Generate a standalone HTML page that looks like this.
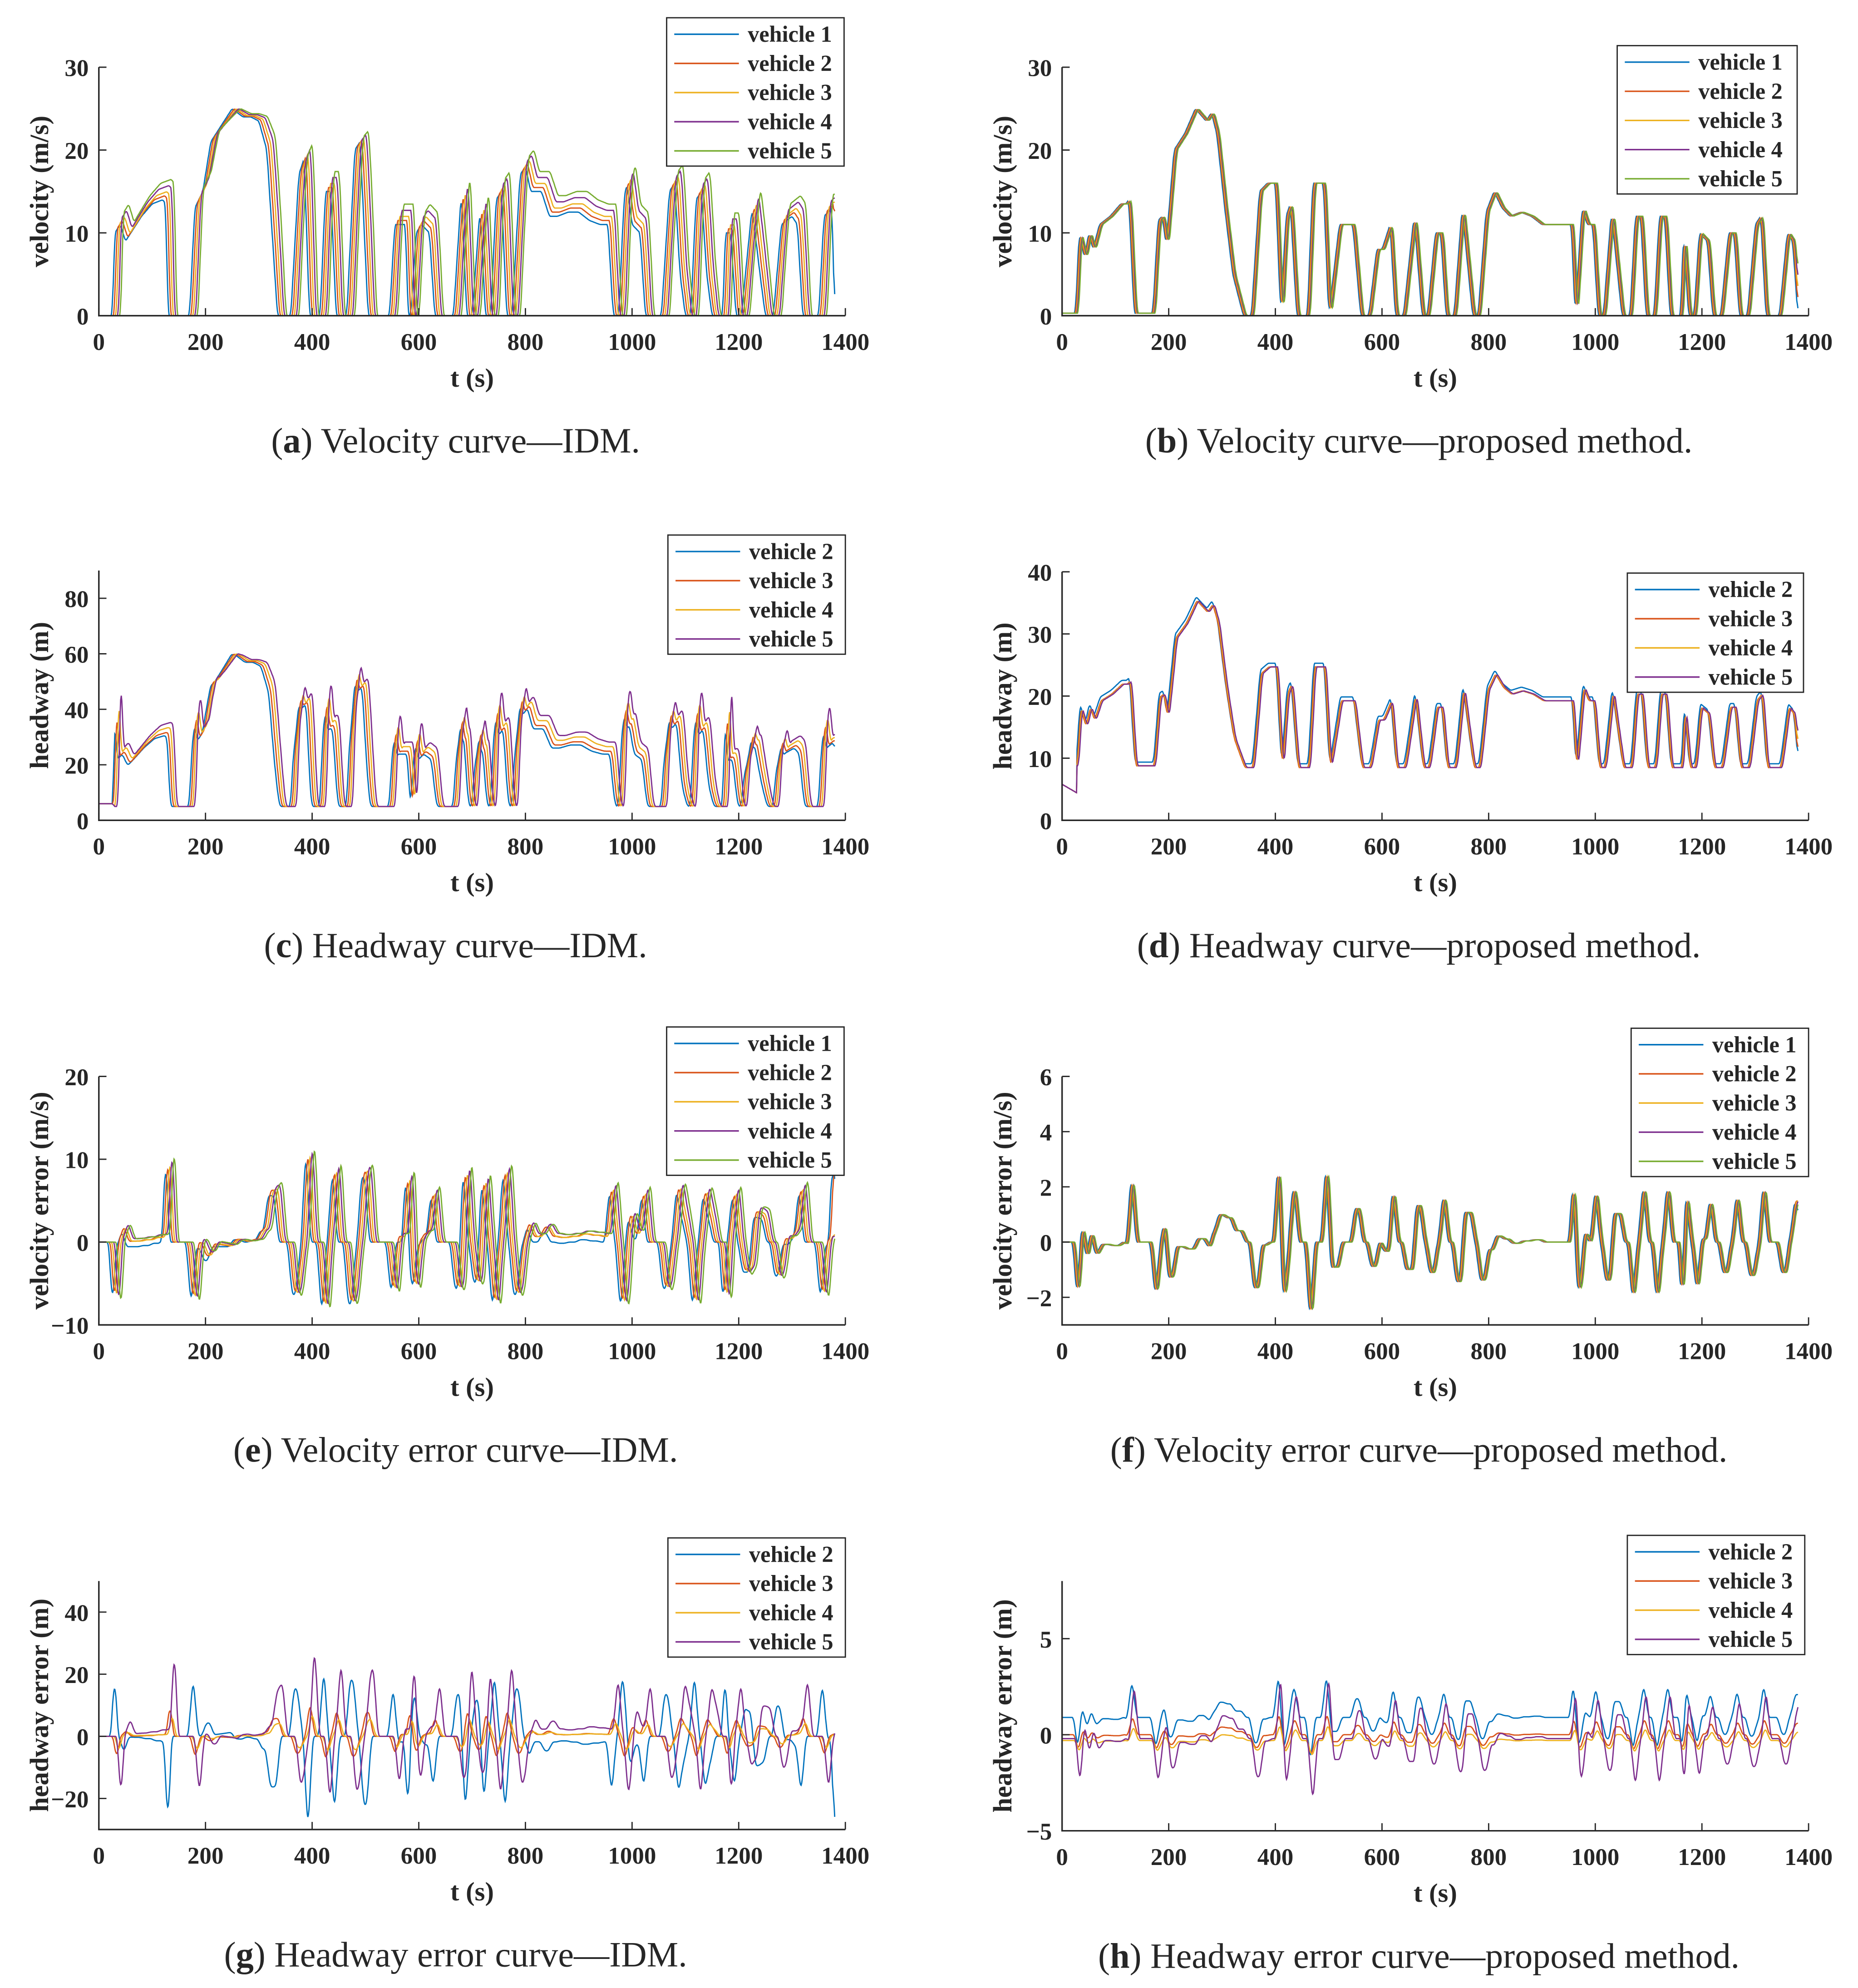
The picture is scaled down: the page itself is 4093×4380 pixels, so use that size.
<!DOCTYPE html>
<html><head><meta charset="utf-8">
<style>
html,body{margin:0;padding:0;background:#fff;}
svg{display:block;}
text{font-family:"Liberation Serif",serif;fill:#262626;}
</style></head>
<body>
<svg id="fig" xmlns="http://www.w3.org/2000/svg" width="4093" height="4380" viewBox="0 0 1466 1568" preserveAspectRatio="none"></svg>
<script>
// ---- data: [time s, lead velocity m/s] ----
const idmPts = [[0,0],[25,0],[30,10],[40,11],[50,9],[60,10],[70,11],[80,12],[100,13.5],[120,14],[125,13.5],[130,0],[170,0],[180,13],[195,15],[210,21],[230,23],[250,25],[270,24],[285,24],[300,23.5],[315,20],[330,5],[335,0],[360,0],[375,17],[385,19],[395,0],[415,0],[425,15],[435,15],[445,0],[465,0],[480,20],[490,21],[505,0],[545,0],[555,11],[575,11],[580,0],[585,0],[595,10],[605,11],[620,10],[630,0],[665,0],[680,15],[690,0],[700,0],[715,13],[725,0],[735,0],[745,14],[755,15],[765,0],[775,0],[790,17],[800,18],[810,15],[830,15],[845,12],[860,12],[880,12.5],[900,12.5],[920,11.5],[940,11],[955,11],[960,5],[965,0],[975,0],[985,14],[990,16],[1000,11],[1015,10],[1025,0],[1055,0],[1070,15],[1080,16],[1090,5],[1100,0],[1110,0],[1120,14],[1130,15],[1140,5],[1150,0],[1170,0],[1175,10],[1185,10],[1195,0],[1205,0],[1225,13],[1240,5],[1250,0],[1265,0],[1280,11],[1300,12],[1310,11],[1320,0],[1350,0],[1360,12],[1375,13],[1380,0]];
const propPts = [[0,0.3],[25,0.3],[32,10],[42,7],[50,10],[58,8],[70,11],[90,12],[110,13.5],[120,13.5],[125,14],[135,0.3],[170,0.3],[180,11.5],[188,12],[195,8.5],[210,20],[230,22],[250,25],[270,23.5],[280,24.5],[290,22],[305,13],[320,5],[340,0],[355,0],[370,15],[385,16],[400,16],[410,0],[420,12],[428,13.5],[440,0],[460,0],[470,16],[490,16],[500,0],[520,11],[545,11],[560,0],[575,0],[590,8],[600,8],[615,11],[625,0],[640,0],[660,12],[675,0],[685,0],[700,10],[710,10],[720,0],[735,0],[750,13],[770,0],[780,0],[795,12.5],[810,15],[825,13],[840,12],[860,12.5],[880,12],[900,11],[920,11],[955,11],[962,0],[975,13],[985,11],[995,11],[1005,0],[1015,0],[1030,12.5],[1050,0],[1065,0],[1075,12],[1085,12],[1095,0],[1110,0],[1120,12],[1130,12],[1140,0],[1160,0],[1165,10],[1175,0],[1185,0],[1195,10],[1210,9],[1220,0],[1235,0],[1250,10],[1260,10],[1270,0],[1285,0],[1300,11],[1310,12],[1320,0],[1345,0],[1360,10],[1370,9],[1380,0]];
const vehicles5 = ["vehicle 1","vehicle 2","vehicle 3","vehicle 4","vehicle 5"];
const vehicles4 = ["vehicle 2","vehicle 3","vehicle 4","vehicle 5"];
const idmLag = [0,4,8,12,16];
const idmGain = [1,1.02,1.04,1.07,1.1];
const propLag = [0,1.5,3,4.5,6];
const idmHeadK = [4.0,4.5,5.0,5.5];
const idmHErrScale = [-2.6,0.9,0.6,2.3];
const propHErrScale = [0.8,0.4,0.3,1.2];
const propHErrOffset = [0.9,0,-0.3,-0.2];
const xTicks = [0,200,400,600,800,1000,1200,1400];
const colors = ["#0072BD","#D95319","#EDB120","#7E2F8E","#77AC30"];
// ---- helpers ----
const NS="http://www.w3.org/2000/svg";
const svg=document.getElementById('fig');
function mk(tag,attrs,parent){const e=document.createElementNS(NS,tag);for(const k in attrs)e.setAttribute(k,attrs[k]);(parent||svg).appendChild(e);return e;}
function interp(P,t){if(t<=P[0][0])return P[0][1];for(let i=1;i<P.length;i++){if(t<=P[i][0]){const f=(t-P[i-1][0])/(P[i][0]-P[i-1][0]);return P[i-1][1]+f*(P[i][1]-P[i-1][1]);}}return P[P.length-1][1];}
function smooth(a,w){return a.map((x,i)=>{let s=0,c=0;for(let k=-w;k<=w;k++){const j=i+k;if(j>=0&&j<a.length){s+=a[j];c++;}}return s/c;});}
const ts=[];for(let t=0;t<=1380;t+=1)ts.push(t);
function vel(P,lag,gain,t){const v=interp(P,t-lag);return v+(gain-1)*v*Math.max(0,1-v/25)*4;}
const idmVel=idmLag.map((l,i)=>smooth(ts.map(t=>vel(idmPts,l,idmGain[i],t)),2));
const idmLead=smooth(ts.map(t=>vel(idmPts,-4,1,t)),2);
const propVel=propLag.map(l=>smooth(ts.map(t=>vel(propPts,l,1,t)),2));
const propLead=smooth(ts.map(t=>vel(propPts,-1.5,1,t)),2);
const idmVErr=idmVel.map((v,i)=>smooth(v.map((x,j)=>(x-(i?idmVel[i-1][j]:idmLead[j]))*1.4),4));
const propVErr=propVel.map((v,i)=>smooth(v.map((x,j)=>(x-(i?propVel[i-1][j]:propLead[j]))*1.1),4));
const idmHead=[1,2,3,4].map((vi,k)=>smooth(idmVel[vi].map((x,j)=>j<28?6:5+1.17*x+0.041*x*x+idmHeadK[k]*Math.max(0,idmVel[vi-1][j]-x)),2));
const propHead=[1,2,3,4].map((vi,k)=>propVel[vi].map((x,j)=>j<28?5.8-j*0.05:8.5+0.9*x+0.007*x*x+(k===0?0.6:0)));
const idmHErr=[1,2,3,4].map((vi,k)=>idmVErr[vi].map(x=>x*idmHErrScale[k]));
const propHErr=[1,2,3,4].map((vi,k)=>propVErr[vi].map(x=>x*propHErrScale[k]+propHErrOffset[k]));

const panels=[
 {id:'a',x0:78,x1:667,yt:53,yb:249,ymin:0,ymax:30,yt_:[0,10,20,30],ylab:'velocity (m/s)',series:idmVel,names:vehicles5,cols:[0,1,2,3,4],leg:[526,14,140],cap:['a',' Velocity curve—IDM.']},
 {id:'b',x0:838,x1:1427,yt:53,yb:249,ymin:0,ymax:30,yt_:[0,10,20,30],ylab:'velocity (m/s)',series:propVel,names:vehicles5,cols:[0,1,2,3,4],leg:[1276,36,142],cap:['b',' Velocity curve—proposed method.']},
 {id:'c',x0:78,x1:667,yt:450,yb:647,ymin:0,ymax:90,yt_:[0,20,40,60,80],ylab:'headway (m)',series:idmHead,names:vehicles4,cols:[0,1,2,3],leg:[527,422,140],cap:['c',' Headway curve—IDM.']},
 {id:'d',x0:838,x1:1427,yt:451,yb:647,ymin:0,ymax:40,yt_:[0,10,20,30,40],ylab:'headway (m)',series:propHead,names:vehicles4,cols:[0,1,2,3],leg:[1284,452,139],cap:['d',' Headway curve—proposed method.']},
 {id:'e',x0:78,x1:667,yt:849,yb:1045,ymin:-10,ymax:20,yt_:[-10,0,10,20],ylab:'velocity error (m/s)',series:idmVErr,names:vehicles5,cols:[0,1,2,3,4],leg:[526,810,140],cap:['e',' Velocity error curve—IDM.']},
 {id:'f',x0:838,x1:1427,yt:849,yb:1045,ymin:-3,ymax:6,yt_:[-2,0,2,4,6],ylab:'velocity error (m/s)',series:propVErr,names:vehicles5,cols:[0,1,2,3,4],leg:[1287,811,140],cap:['f',' Velocity error curve—proposed method.']},
 {id:'g',x0:78,x1:667,yt:1247,yb:1443,ymin:-30,ymax:50,yt_:[-20,0,20,40],ylab:'headway error (m)',series:idmHErr,names:vehicles4,cols:[0,1,2,3],leg:[527,1213,140],cap:['g',' Headway error curve—IDM.']},
 {id:'h',x0:838,x1:1427,yt:1247,yb:1444,ymin:-5,ymax:8,yt_:[-5,0,5],ylab:'headway error (m)',series:propHErr,names:vehicles4,cols:[0,1,2,3],leg:[1284,1211,140],cap:['h',' Headway error curve—proposed method.']}
];

panels.forEach(p=>{
 const g=mk('g',{});
 
 
 const sx=t=>p.x0+(t-0)/1400*(p.x1-p.x0);
 const sy=v=>p.yb-(v-p.ymin)/(p.ymax-p.ymin)*(p.yb-p.yt);
 p.series.forEach((s,i)=>{
  const d=s.map((v,j)=>(j?'L':'M')+sx(ts[j]).toFixed(1)+','+sy(Math.max(p.ymin,Math.min(p.ymax,v))).toFixed(1)).join('');
  const path=mk('path',{d:d,fill:'none',stroke:colors[p.cols[i]],'stroke-width':1},g);
  
  
 });
 const ax=mk('path',{d:`M${p.x0},${p.yt}L${p.x0},${p.yb}L${p.x1},${p.yb}`,fill:'none',stroke:'#262626','stroke-width':1.2},g);
 
 
 xTicks.forEach(t=>{
  mk('line',{x1:sx(t),x2:sx(t),y1:p.yb,y2:p.yb-6,stroke:'#262626','stroke-width':1},g);
  const tx=mk('text',{x:sx(t),y:p.yb+27,'text-anchor':'middle','font-size':19,'font-weight':'bold'},g);
  tx.textContent=t;
  
  
 });
 p.yt_.forEach(v=>{
  mk('line',{x1:p.x0,x2:p.x0+6,y1:sy(v),y2:sy(v),stroke:'#262626','stroke-width':1},g);
  const tx=mk('text',{x:p.x0-8,y:sy(v)+7,'text-anchor':'end','font-size':19,'font-weight':'bold'},g);
  tx.textContent=v<0?'\u2212'+(-v):v;
  
  
 });
 const xl=mk('text',{x:(p.x0+p.x1)/2,y:p.yb+56,'text-anchor':'middle','font-size':21,'font-weight':'bold'},g);
 xl.textContent='t (s)';
 
 
 const yc=(p.yt+p.yb)/2, yx=p.x0-40;
 const yl=mk('text',{x:yx,y:yc,'text-anchor':'middle','font-size':21,'font-weight':'bold',transform:`rotate(-90 ${yx} ${yc})`},g);
 yl.textContent=p.ylab;
 
 
 const [lx,ly,lw]=p.leg; const n=p.names.length; const lh=n*23+2;
 const lg=mk('g',{},g);
 
 
 mk('rect',{x:lx,y:ly,width:lw,height:lh,fill:'#fff',stroke:'#262626','stroke-width':1},lg);
 p.names.forEach((nm,i)=>{
  const yy=ly+13+i*23;
  mk('line',{x1:lx+6,x2:lx+57,y1:yy,y2:yy,stroke:colors[p.cols[i]],'stroke-width':1.2},lg);
  const tx=mk('text',{x:lx+64,y:yy+6,'font-size':18,'font-weight':'bold'},lg);
  tx.textContent=nm;
  
  
 });
 const cp=mk('text',{x:(p.x0+p.x1)/2-13,y:p.yb+108,'text-anchor':'middle','font-size':28},g);
 
 
 const t1=mk('tspan',{},cp); t1.textContent='(';
 const t2=mk('tspan',{'font-weight':'bold'},cp); t2.textContent=p.cap[0];
 const t3=mk('tspan',{},cp); t3.textContent=')'+p.cap[1];
});
</script>
</body></html>
